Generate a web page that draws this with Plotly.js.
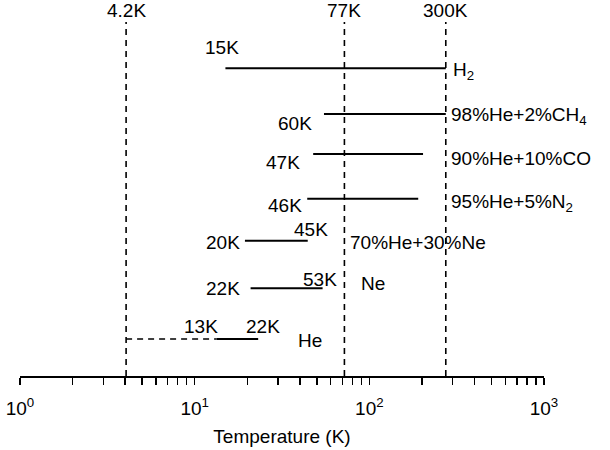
<!DOCTYPE html>
<html>
<head>
<meta charset="utf-8">
<script src="https://cdn.plot.ly/plotly-3.0.1.min.js"></script>
<style>html,body{margin:0;padding:0;background:#fff}#chart{width:610px;height:450px}</style>
</head>
<body>
<div id="chart"></div>
<script>
// ---- data ----
const gasNames   = ['H<sub>2</sub>', '98%He+2%CH<sub>4</sub>', '90%He+10%CO', '95%He+5%N<sub>2</sub>', '70%He+30%Ne', 'Ne', 'He'];
const rowLevel   = [307.7, 262, 222, 177.3, 135.3, 87.7, 37];   // vertical row position of each gas
const startTemp  = [15, 55, 47.7, 44.1, 19.4, 20.9, 13.4];      // K, left end of solid line
const endTemp    = [274, 274, 203, 190.5, 44.4, 54, 23.1];       // K, right end of solid line
const startLabel = ['15K', '60K', '47K', '46K', '20K', '22K', '13K'];
const endLabel   = ['', '', '', '', '45K', '53K', '22K'];
const heDashedFrom = 4.05;                                       // K, dashed extension of He row
const refTemps   = [4.05, 72, 274];                              // vertical dashed reference lines
const refLabels  = ['4.2K', '77K', '300K'];
const refTop     = 354;
const decadeTicks = [];
for (let e = 0; e < 3; e++) for (let d = 1; d < 10; d++) decadeTicks.push(d * Math.pow(10, e));
decadeTicks.push(1000);
const tickText = decadeTicks.map(v => {
  const l = Math.log10(v);
  return Math.abs(l - Math.round(l)) < 1e-9 ? '10<sup>' + Math.round(l) + '</sup>' : '';
});

// ---- traces ----
const FONT = 'Liberation Sans, Arial, sans-serif';
const traces = [];
refTemps.forEach(t => traces.push({
  x: [t, t], y: [0, refTop], mode: 'lines', showlegend: false, hoverinfo: 'skip',
  line: {color: '#000', width: 1.6, dash: '6px,5px'}
}));
traces.push({
  x: [heDashedFrom, startTemp[6]], y: [rowLevel[6], rowLevel[6]], mode: 'lines', showlegend: false,
  line: {color: '#000', width: 1.6, dash: '6px,5px'}
});
rowLevel.forEach((y, i) => traces.push({
  x: [startTemp[i], endTemp[i]], y: [y, y], mode: 'lines', showlegend: false,
  line: {color: '#000', width: 2}
}));

// ---- annotations ----
const ann = [];
const FS = 19;
const A = (x, y, text, xanchor, xshift, yshift) => ann.push({
  x: Math.log10(x), y: y, text: text, showarrow: false, xanchor: xanchor, yanchor: 'middle',
  xshift: xshift, yshift: yshift, font: {family: FONT, size: FS, color: '#000'}
});
refTemps.forEach((t, i) => A(t, refTop, refLabels[i], 'center', 0, 12));
// start labels
A(startTemp[0], rowLevel[0], startLabel[0], 'center', -3, 21);
A(startTemp[1], rowLevel[1], startLabel[1], 'right', -10, -9);
A(startTemp[2], rowLevel[2], startLabel[2], 'right', -11, -8);
A(startTemp[3], rowLevel[3], startLabel[3], 'right', -3, -7);
A(startTemp[4], rowLevel[4], startLabel[4], 'right', -3, -2);
A(startTemp[5], rowLevel[5], startLabel[5], 'right', -9, 0);
A(startTemp[6], rowLevel[6], startLabel[6], 'right', 3, 13);
// end labels
A(endTemp[4], rowLevel[4], endLabel[4], 'center', 3, 11);
A(endTemp[5], rowLevel[5], endLabel[5], 'center', -3, 9);
A(endTemp[6], rowLevel[6], endLabel[6], 'center', 5, 13);
// gas names
A(refTemps[2], rowLevel[0], gasNames[0], 'left', 5, -3);
A(refTemps[2], rowLevel[1], gasNames[1], 'left', 3, -2);
A(refTemps[2], rowLevel[2], gasNames[2], 'left', 3, -4);
A(refTemps[2], rowLevel[3], gasNames[3], 'left', 3, -4);
A(refTemps[1], rowLevel[4], gasNames[4], 'left', 4, -2);
A(refTemps[1], rowLevel[5], gasNames[5], 'left', 15, 5);
A(endTemp[6], rowLevel[6], gasNames[6], 'left', 38, -1);

const layout = {
  width: 610, height: 450,
  margin: {l: 20, r: 66, t: 20, b: 74},
  paper_bgcolor: '#fff', plot_bgcolor: '#fff',
  font: {family: FONT, color: '#000', size: 18},
  showlegend: false,
  xaxis: {
    type: 'log', range: [0, 3],
    tickmode: 'array', tickvals: decadeTicks, ticktext: tickText,
    ticks: 'outside', ticklen: 7, tickwidth: 1.5, tickcolor: '#000',
    showline: true, linecolor: '#000', linewidth: 1.5,
    showgrid: false, zeroline: false,
    tickfont: {family: FONT, size: 19, color: '#000'},
    ticklabelstandoff: 8,
    title: {text: 'Temperature (K)', font: {family: FONT, size: 19, color: '#000'}, standoff: 11}
  },
  yaxis: {
    range: [0, 356], visible: false, showgrid: false, zeroline: false, fixedrange: true
  },
  annotations: ann
};
Plotly.newPlot('chart', traces, layout, {displayModeBar: false, staticPlot: true});
</script>
</body>
</html>
